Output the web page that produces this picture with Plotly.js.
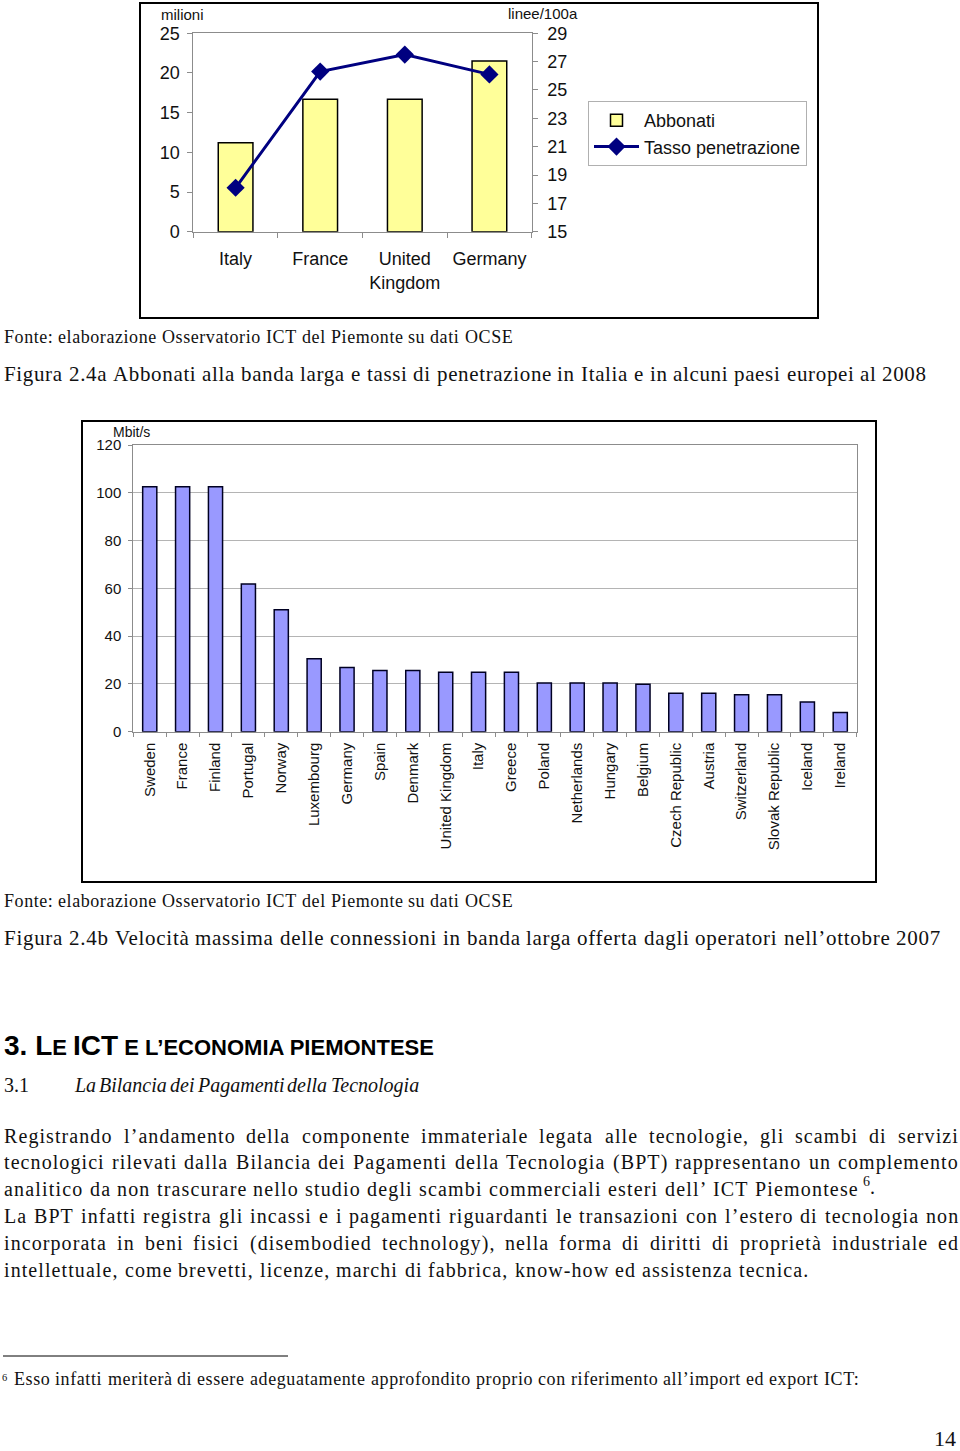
<!DOCTYPE html>
<html>
<head>
<meta charset="utf-8">
<script src="https://cdn.plot.ly/plotly-3.0.1.min.js"></script>
<style>
html,body{margin:0;padding:0;background:#fff;}
#chart{width:960px;height:1451px;}
</style>
</head>
<body>
<div id="chart"></div>
<script>
// ---- data: Figura 2.4a ----
const topCountries = ['Italy', 'France', 'United<br>Kingdom', 'Germany'];
const abbonati = [11.2, 16.7, 16.7, 21.5];          // milioni
const tassoPenetrazione = [18.1, 26.3, 27.5, 26.1]; // linee/100 abitanti
const leftTicks = [0, 5, 10, 15, 20, 25];
const rightTicks = [15, 17, 19, 21, 23, 25, 27, 29];

// ---- data: Figura 2.4b ----
const speedCountries = ['Sweden', 'France', 'Finland', 'Portugal', 'Norway', 'Luxembourg', 'Germany',
  'Spain', 'Denmark', 'United Kingdom', 'Italy', 'Greece', 'Poland', 'Netherlands', 'Hungary',
  'Belgium', 'Czech Republic', 'Austria', 'Switzerland', 'Slovak Republic', 'Iceland', 'Ireland'];
const speedMbit = [102.5, 102.5, 102.5, 61.8, 51, 30.5, 26.9, 25.6, 25.6, 24.9, 24.9, 24.9,
  20.4, 20.4, 20.4, 19.9, 16.1, 16.1, 15.5, 15.5, 12.4, 8];
const speedTicks = [0, 20, 40, 60, 80, 100, 120];

// ---- page texts ----
const fonteText = 'Fonte: elaborazione Osservatorio ICT del Piemonte su dati OCSE';
const caption1 = 'Figura 2.4a Abbonati alla banda larga e tassi di penetrazione in Italia e in alcuni paesi europei al 2008';
const caption2 = 'Figura 2.4b Velocità massima delle connessioni in banda larga offerta dagli operatori nell’ottobre 2007';
const bodyLines = [
  'Registrando l’andamento della componente immateriale legata alle tecnologie, gli scambi di servizi',
  'tecnologici rilevati dalla Bilancia dei Pagamenti della Tecnologia (BPT) rappresentano un complemento',
  'analitico da non trascurare nello studio degli scambi commerciali esteri dell’ ICT Piemontese',
  'La BPT infatti registra gli incassi e i pagamenti riguardanti le transazioni con l’estero di tecnologia non',
  'incorporata in beni fisici (disembodied technology), nella forma di diritti di proprietà industriale ed',
  'intellettuale, come brevetti, licenze, marchi di fabbrica, know-how ed assistenza tecnica.'
];
const footnote = 'Esso infatti meriterà di essere adeguatamente approfondito proprio con riferimento all’import ed export ICT:';

const W = 960, H = 1451;
const px = v => v / W;
const py = v => 1 - v / H;
const SANS = 'Liberation Sans, Arial, sans-serif';
const SERIF = 'Liberation Serif, Times New Roman, serif';
const TXT = '#111';

const canvas = document.createElement('canvas');
const ctx = canvas.getContext('2d');
function measure(t, size, style) {
  ctx.font = (style || 'normal') + ' ' + size + 'px "Liberation Serif"';
  return ctx.measureText(t).width;
}
// letter spacing that makes a whole line (with plain spaces) span a given width
function fitSpacing(line, width, size, style) {
  const clean = line.replace(/\s+/g, ' ');
  return Math.max(0, (width - measure(clean, size, style)) / clean.length);
}

const annotations = [];
function textAt(t, x, y, size, opts) {
  opts = opts || {};
  annotations.push({
    xref: 'paper', yref: 'paper', x: px(x), y: py(y), text: t, showarrow: false,
    xanchor: opts.xanchor || 'left', yanchor: 'middle', borderpad: 0,
    font: {family: opts.family || SERIF, size: size, color: opts.color || TXT, style: opts.style || 'normal'}
  });
}
// place a line's words between x0 and x1 with letter spacing ls
function spreadLine(line, x0, x1, y, size, style, ls) {
  const words = line.split(/\s+/).filter(w => w.length);
  const widths = words.map(w => measure(w, size, style) + ls * w.length);
  const total = widths.reduce((a, b) => a + b, 0);
  const gap = words.length > 1 ? (x1 - x0 - total) / (words.length - 1) : 0;
  let x = x0;
  words.forEach((w, i) => {
    const t = ls > 0.05 ? '<span style="letter-spacing:' + ls.toFixed(2) + 'px">' + w + '</span>' : w;
    textAt(t, x, y, size, {style: style});
    x += widths[i] + gap;
  });
}
function fitLine(line, x0, x1, y, size, style) {
  const ls = fitSpacing(line, x1 - x0, size, style);
  spreadLine(line, x0, x1, y, size, style, ls);
  return ls;
}

// text blocks
fitLine(fonteText, 3, 512, 337, 18);
fitLine(caption1, 3, 926, 374, 21);
fitLine(fonteText, 3, 512, 901, 18);
fitLine(caption2, 3, 940, 938, 21);

annotations.push({
  xref: 'paper', yref: 'paper', x: px(2), y: py(1045), showarrow: false, xanchor: 'left', yanchor: 'middle',
  text: '<b><span style="font-size:28px">3. L</span><span style="font-size:22px">E </span><span style="font-size:28px">ICT</span><span style="font-size:22px"> E L’ECONOMIA PIEMONTESE</span></b>',
  font: {family: SANS, size: 28, color: '#000'}
});
textAt('3.1', 3, 1085, 20);
fitLine('La Bilancia dei Pagamenti della Tecnologia', 73, 418, 1085, 20, 'italic');

const bodyY = [1136, 1162, 1189, 1216, 1243, 1270];
const bodyEnd = [958, 958, 858, 958, 958, 808];
// spacing of the body text taken from its last (unjustified) line
const bodyLS = fitSpacing(bodyLines[5], 808 - 3, 20);
bodyLines.forEach((l, i) => {
  if (i === 2) {
    fitLine(l, 3, bodyEnd[i], bodyY[i], 20);
  } else {
    spreadLine(l, 3, bodyEnd[i], bodyY[i], 20, 'normal', bodyLS);
  }
});
textAt('<sup>6</sup>.', 862, 1186, 20);

textAt('<sup>6</sup>', 1, 1377, 15);
fitLine(footnote, 13, 858, 1379, 18);
textAt('14', 957, 1438, 22, {xanchor: 'right'});

// chart labels
textAt('milioni', 160, 14, 15, {family: SANS});
textAt('linee/100a', 507, 13, 15, {family: SANS});
textAt('Mbit/s', 112, 432, 14, {family: SANS});

const GRAY = '#8c8c8c';
const traces = [
  {
    type: 'bar', name: 'Abbonati', x: topCountries, y: abbonati, xaxis: 'x', yaxis: 'y',
    width: 0.41, marker: {color: '#FFFF99', line: {color: '#000', width: 1.5}}
  },
  {
    type: 'scatter', mode: 'lines+markers', name: 'Tasso penetrazione', x: topCountries, y: tassoPenetrazione,
    xaxis: 'x', yaxis: 'y2', line: {color: '#000080', width: 3},
    marker: {symbol: 'diamond', size: 14, color: '#000080'}
  },
  {
    type: 'bar', name: 'Mbit/s', x: speedCountries, y: speedMbit, xaxis: 'x2', yaxis: 'y3',
    width: 0.43, showlegend: false, marker: {color: '#9999FF', line: {color: '#000022', width: 1.5}}
  }
];

const layout = {
  width: W, height: H, margin: {l: 0, r: 0, t: 0, b: 0},
  paper_bgcolor: '#fff', plot_bgcolor: '#fff',
  font: {family: SANS, color: TXT},
  showlegend: true,
  legend: {
    x: px(588), y: py(101), xanchor: 'left', yanchor: 'top', bgcolor: '#fff',
    bordercolor: '#b0b0b0', borderwidth: 1, font: {family: SANS, size: 18, color: TXT},
    itemwidth: 45, traceorder: 'normal', tracegroupgap: 0
  },
  xaxis: {
    domain: [px(193.3), px(531.7)], anchor: 'y', type: 'category', range: [-0.5, 3.5],
    showline: true, linecolor: GRAY, linewidth: 1, mirror: true,
    ticks: 'outside', tickson: 'boundaries', ticklen: 5, tickcolor: GRAY,
    tickfont: {family: SANS, size: 18, color: TXT}, ticklabelstandoff: 11, showgrid: false, fixedrange: true
  },
  yaxis: {
    domain: [py(231.7), py(33.3)], anchor: 'x', range: [0, 25], tickvals: leftTicks,
    showline: true, linecolor: GRAY, mirror: true, ticks: 'outside', ticklen: 5, tickcolor: GRAY,
    showgrid: false, zeroline: false, tickfont: {family: SANS, size: 18, color: TXT}, ticklabelstandoff: 4
  },
  yaxis2: {
    overlaying: 'y', side: 'right', anchor: 'x', range: [15, 29], tickvals: rightTicks,
    showline: true, linecolor: GRAY, ticks: 'outside', ticklen: 5, tickcolor: GRAY,
    showgrid: false, zeroline: false, tickfont: {family: SANS, size: 18, color: TXT}, ticklabelstandoff: 6
  },
  xaxis2: {
    domain: [px(133.3), px(856.7)], anchor: 'y3', type: 'category', range: [-0.5, 21.5],
    showline: true, linecolor: GRAY, mirror: true, ticks: 'outside', tickson: 'boundaries', ticklen: 4,
    tickcolor: GRAY, tickangle: -90, tickfont: {family: SANS, size: 15, color: TXT}, ticklabelstandoff: 4,
    showgrid: false
  },
  yaxis3: {
    domain: [py(731.7), py(445)], anchor: 'x2', range: [0, 120], tickvals: speedTicks,
    showline: true, linecolor: GRAY, mirror: true, ticks: 'outside', ticklen: 4, tickcolor: GRAY,
    showgrid: true, gridcolor: '#b4b4b4', gridwidth: 1, zeroline: false,
    tickfont: {family: SANS, size: 15, color: TXT}, ticklabelstandoff: 4
  },
  shapes: [
    {type: 'rect', xref: 'paper', yref: 'paper', x0: px(140), x1: px(818), y0: py(318), y1: py(3),
      line: {color: '#000', width: 2}},
    {type: 'rect', xref: 'paper', yref: 'paper', x0: px(82), x1: px(876), y0: py(882), y1: py(421),
      line: {color: '#000', width: 2}},
    {type: 'line', xref: 'paper', yref: 'paper', x0: px(3), x1: px(288), y0: py(1356), y1: py(1356),
      line: {color: '#000', width: 1}}
  ],
  annotations: annotations
};

Plotly.newPlot('chart', traces, layout, {displayModeBar: false, staticPlot: true});
</script>
</body>
</html>
